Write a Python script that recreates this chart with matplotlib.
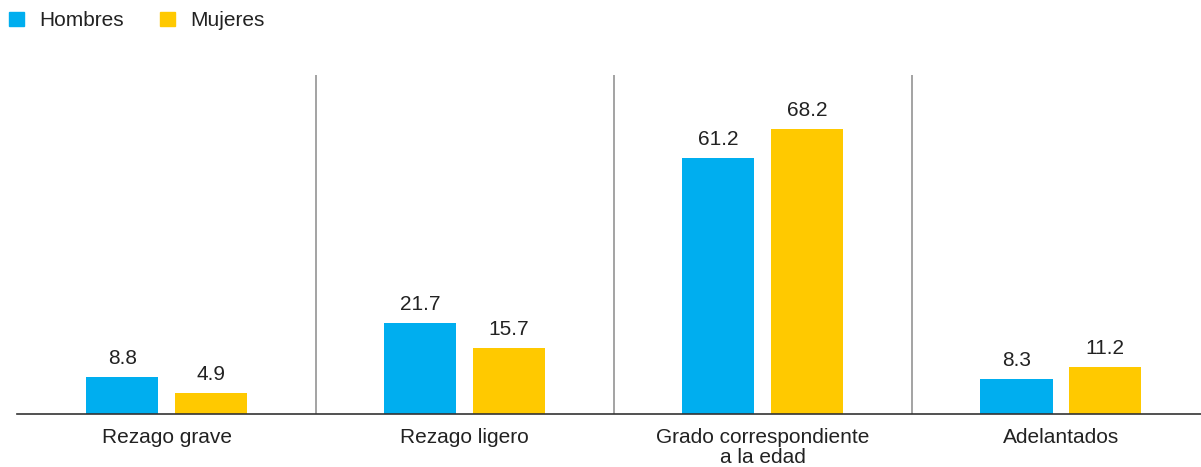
import matplotlib
matplotlib.use("Agg")
import matplotlib.pyplot as plt
from matplotlib.patches import Rectangle
import numpy as np

categories = ["Rezago grave", "Rezago ligero", "Grado correspondiente\na la edad", "Adelantados"]
hombres = [8.8, 21.7, 61.2, 8.3]
mujeres = [4.9, 15.7, 68.2, 11.2]
series_names = ["Hombres", "Mujeres"]

BLUE = "#00AEEF"
YELLOW = "#FFC900"
TXT = "#222222"

plt.rcParams['font.family'] = ['Liberation Sans', 'DejaVu Sans']

W, H = 1201, 467
fig = plt.figure(figsize=(W / 100, H / 100), dpi=100)
ax = fig.add_axes([17 / W, 53 / H, (1201 - 17) / W, (414 - 75) / H])

x = np.arange(len(categories))
bw = 0.242
off = 0.149
b1 = ax.bar(x - off, hombres, bw, color=BLUE, zorder=2)
b2 = ax.bar(x + off, mujeres, bw, color=YELLOW, zorder=2)

for bars, vals in ((b1, hombres), (b2, mujeres)):
    for r, v in zip(bars, vals):
        ax.annotate(f"{v:.1f}", (r.get_x() + r.get_width() / 2, v),
                    xytext=(0, 6.5), textcoords="offset points",
                    ha="center", va="bottom", fontsize=15, color=TXT)

ax.set_xlim(-0.502, 3.47)
ax.set_ylim(0, 81)

for s in [0.5, 1.5, 2.5]:
    ax.axvline(s, color="#8a8a8a", lw=1.1, zorder=1)

for sp in ["top", "right", "left"]:
    ax.spines[sp].set_visible(False)
ax.spines["bottom"].set_color("#333333")
ax.spines["bottom"].set_linewidth(1.2)
ax.set_yticks([])
ax.set_xticks(x)
ax.set_xticklabels(categories, fontsize=15, color=TXT, linespacing=1.1)
ax.tick_params(axis="x", length=0, pad=10)

# legend
handles = [Rectangle((0, 0), 1, 1, color=BLUE), Rectangle((0, 0), 1, 1, color=YELLOW)]
fig.legend(handles, series_names, loc="upper left", bbox_to_anchor=(-0.002, 1.0),
           ncol=2, frameon=False, fontsize=15, handlelength=0.7, handleheight=0.7,
           handletextpad=0.75, columnspacing=1.75, borderaxespad=0.15,
           labelcolor=TXT)

fig.savefig("out.png", dpi=100)
